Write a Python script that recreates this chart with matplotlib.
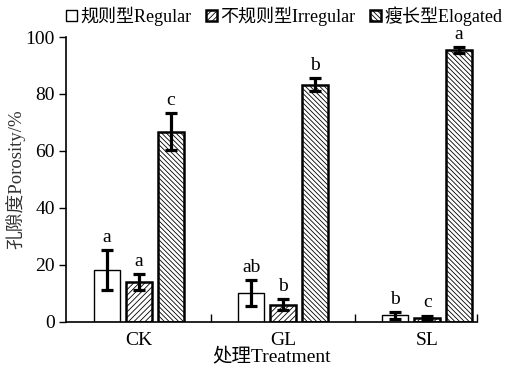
import matplotlib
matplotlib.use("Agg")
import matplotlib.pyplot as plt
import numpy as np

plt.rcParams['font.family'] = ['Liberation Serif', 'Noto Sans CJK SC']
plt.rcParams['hatch.linewidth'] = 0.6

treatments = ['CK', 'GL', 'SL']
series_names = ['规则型Regular', '不规则型Irregular', '瘦长型Elogated']
regular = [18.2, 10.2, 2.3]
irregular = [14.0, 6.0, 1.5]
elongated = [66.7, 83.3, 95.4]
regular_err = [7.0, 4.5, 1.2]
irregular_err = [2.8, 1.9, 0.7]
elongated_err = [6.5, 2.4, 1.0]
regular_sig = ['a', 'ab', 'b']
irregular_sig = ['a', 'b', 'c']
elongated_sig = ['c', 'b', 'a']

values = [regular, irregular, elongated]
errors = [regular_err, irregular_err, elongated_err]
letters = [regular_sig, irregular_sig, elongated_sig]
hatches = ['', '//////', '\\\\\\\\\\\\\\']
edge_widths = [1.0, 1.8, 1.8]

fig = plt.figure(figsize=(5.12, 3.70), dpi=100)
ax = fig.add_axes([0.129, 0.130, 0.803, 0.770])

x = np.arange(len(treatments))
width = 0.18
offsets = [-0.222, 0.0, 0.222]

handles = []
for vals, errs, sig, hatch, lw, off, name in zip(values, errors, letters, hatches,
                                                  edge_widths, offsets, series_names):
    bars = ax.bar(x + off, vals, width, color='white', edgecolor='black',
                  linewidth=lw, hatch=hatch, label=name, zorder=2)
    ax.errorbar(x + off, vals, yerr=errs, fmt='none', ecolor='black',
                elinewidth=2.3, capsize=4.5, capthick=2.3, zorder=3)
    for xi, v, e, s in zip(x + off, vals, errs, sig):
        ax.annotate(s, (xi, v + e), xytext=(0, 3), textcoords='offset points',
                    ha='center', va='bottom', fontsize=14)
    handles.append(bars)

ax.set_xlim(-0.507, 2.347)
ax.set_ylim(0, 100)
ax.set_yticks([0, 20, 40, 60, 80, 100])
ax.set_xticks(x)
ax.set_xticklabels(treatments)
ax.set_xticks([0.5, 1.5, 2.347], minor=True)
ax.tick_params(axis='x', which='major', length=0, labelsize=14, pad=7)
ax.tick_params(axis='x', which='minor', direction='in', length=6, width=1)
ax.tick_params(axis='y', direction='out', length=5, width=1, labelsize=14, pad=3)
for side in ['top', 'right']:
    ax.spines[side].set_visible(False)
ax.spines['left'].set_linewidth(1.2)
ax.spines['bottom'].set_linewidth(1.2)

ax.set_ylabel('孔隙度Porosity/%', fontsize=13.5, color='#333333')
ax.yaxis.set_label_coords(-0.10, 0.5)
ax.set_xlabel('处理Treatment', fontsize=14, labelpad=-1)

fig.legend(handles=handles, labels=series_names, loc='center',
           bbox_to_anchor=(0.555, 0.957), ncol=3, frameon=False,
           handlelength=0.6, handleheight=0.6, handletextpad=0.2,
           columnspacing=0.8, fontsize=13, borderpad=0)

fig.savefig('out.png', dpi=100)
